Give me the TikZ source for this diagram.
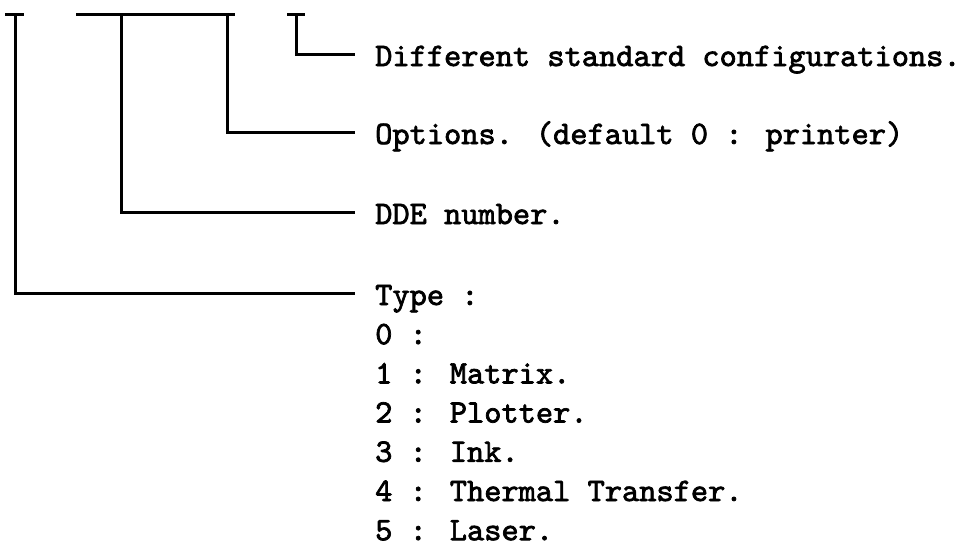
\documentclass[tikz,border=0pt]{standalone}
\usepackage{fontspec}
\newfontfamily\typefont{lmmono10-regular.otf}[FakeBold=2.2]
\usetikzlibrary{positioning}

\begin{document}
\begin{tikzpicture}[x=1pt,y=-1pt,
    mylabel/.style={
       font=\fontsize{32.8}{40}\selectfont\typefont,
       inner sep=0pt,
       text height=24pt,
       text depth=0pt,
       anchor=west},
    myline/.style={line width=3pt},
    node distance=14.8pt
    ]
    \useasboundingbox (0,0) rectangle (975,547);

    % tops of the four fields
    \coordinate (f1) at (15,14);
    \coordinate (f2) at (121,14);
    \coordinate (f3) at (227,14);
    \coordinate (f4) at (296,14);

    \node[mylabel] (l4) at (375,54) {Different standard configurations.};
    \node[mylabel] (l3) at (375,132) {Options. (default 0 : printer)};
    \node[mylabel] (l2) at (375,212) {DDE number.};
    \node[mylabel] (l1) at (375,293) {Type :};

    \node[mylabel,below=of l1.south west,anchor=north west] (k0) {0 :};
    \foreach \i/\j/\txt in {% new node/previous node/text
      k1/k0/1 : Matrix.,
      k2/k1/2 : Plotter.,
      k3/k2/3 : Ink.,
      k4/k3/4 : Thermal Transfer.,
      k5/k4/5 : Laser.}
       \node[mylabel,below=of \j.south west,anchor=north west] (\i) {\txt};

    % bars on top
    \draw[myline] ([xshift=-10pt]f1) -- ([xshift=9pt]f1);
    \draw[myline] ([xshift=-45pt]f2) -- ([xshift=8pt]f3);
    \draw[myline] ([xshift=-9pt]f4) -- ([xshift=9pt]f4);

    \foreach \i in {1,...,4}
       \draw[myline] (f\i) |- ([xshift=-20pt]l\i.west);
\end{tikzpicture}
\end{document}
